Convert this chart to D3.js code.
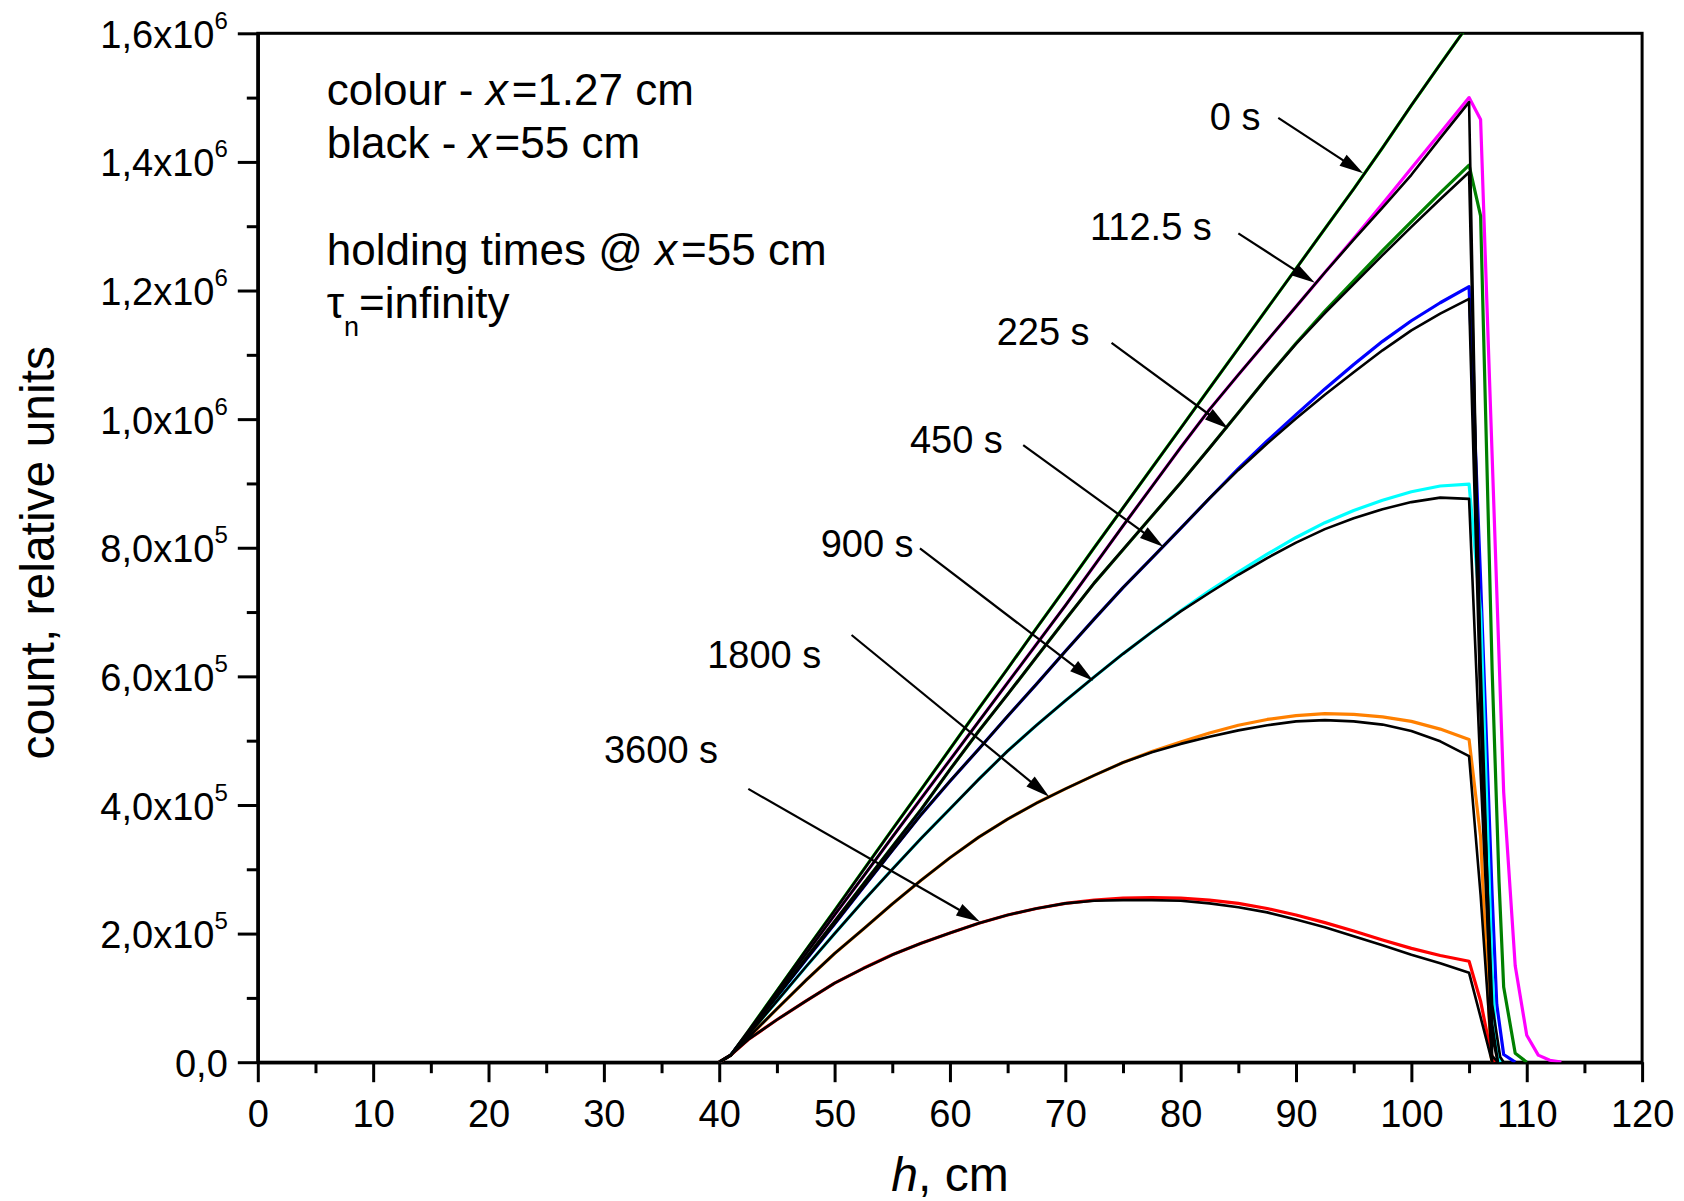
<!DOCTYPE html>
<html>
<head>
<meta charset="utf-8">
<script src="https://d3js.org/d3.v7.min.js"></script>
<style>
body { margin: 0; background: #fff; }
text { font-family: "Liberation Sans", Arial, sans-serif; fill: #000; }
</style>
</head>
<body>
<div id="chart"></div>
<script>
// heights along the profile, cm
var hGrid = [40, 41, 42.5, 45, 47.5, 50, 52.5, 55, 57.5, 60, 62.5, 65, 67.5, 70,
    72.5, 75, 77.5, 80, 82.5, 85, 87.5, 90, 92.5, 95, 97.5, 100, 102.5, 105];

// counts in units of 10^3; colour = x 1.27 cm, black = x 55 cm
var holdTimes = ["0 s", "112.5 s", "225 s", "450 s", "900 s", "1800 s", "3600 s"];

var colour0 = [0, 11, 48, 111, 174, 236, 299, 362, 424, 487, 550, 612, 675, 737,
    800, 862, 924, 986, 1048, 1110, 1172, 1234, 1296, 1358, 1422, 1488, 1552, 1615];
var colour112 = [0, 11, 47, 108, 168, 229, 289, 350, 410, 470, 530, 590, 650, 710,
    772, 834, 895, 956, 1015, 1069, 1122, 1175, 1228, 1281, 1335, 1390, 1445, 1500];
var colour225 = [0, 11, 46, 103, 161, 219, 277, 335, 393, 455, 515, 572, 630, 688,
    745, 797, 849, 901, 955, 1010, 1065, 1118, 1168, 1215, 1262, 1307, 1352, 1395];
var colour450 = [0, 11, 45, 102, 159, 215, 272, 329, 385, 437, 487, 538, 588, 639,
    689, 738, 784, 830, 877, 923, 966, 1007, 1047, 1085, 1121, 1153, 1181, 1206];
var colour900 = [0, 11, 42, 95, 148, 200, 251, 300, 348, 394, 440, 484, 524, 562,
    599, 635, 669, 702, 733, 762, 790, 816, 839, 858, 874, 887, 896, 899];
var colour1800 = [0, 11, 38, 83, 127, 169, 207, 246, 283, 318, 350, 378, 403, 425,
    446, 466, 483, 498, 512, 524, 533, 539, 542, 541, 537, 530, 518, 502];
var colour3600 = [0, 11, 35, 66, 95, 123, 146, 167, 185, 201, 216, 229, 239, 247,
    252, 255, 256, 255, 252, 247, 239, 229, 217, 204, 190, 177, 166, 157];

var black0 = colour0;
var black112 = [0, 11, 47, 108, 168, 229, 289, 350, 410, 470, 530, 590, 650, 710,
    772, 834, 895, 956, 1015, 1069, 1122, 1175, 1228, 1279, 1329, 1380, 1437, 1493];
var black225 = [0, 11, 46, 103, 161, 219, 277, 335, 393, 455, 515, 572, 630, 688,
    745, 797, 849, 901, 955, 1010, 1065, 1117, 1165, 1210, 1255, 1299, 1342, 1384];
var black450 = [0, 11, 45, 102, 159, 215, 272, 329, 385, 437, 487, 538, 588, 639,
    689, 738, 784, 830, 877, 921, 962, 1001, 1038, 1073, 1107, 1138, 1164, 1187];
var black900 = [0, 11, 42, 95, 148, 200, 251, 300, 348, 394, 440, 484, 524, 562,
    599, 635, 669, 701, 730, 758, 784, 808, 829, 846, 860, 871, 878, 876];
var black1800 = [0, 11, 38, 83, 127, 169, 207, 246, 283, 318, 350, 378, 403, 425,
    446, 466, 482, 495, 506, 516, 524, 530, 532, 530, 525, 515, 499, 476];
var black3600 = [0, 11, 35, 66, 95, 123, 146, 167, 185, 201, 216, 229, 239, 247,
    251, 252, 252, 251, 247, 241, 233, 222, 210, 196, 182, 167, 154, 139];

// fall-off past 105 cm, [h, count]
var colourTails = [
    [],
    [[106, 1466], [108, 420], [109, 150], [110, 42], [111, 11], [112, 3], [113, 0]],
    [[106, 1316], [107, 610], [107.6, 280], [108, 117], [109, 14], [110, 0]],
    [[106, 750], [107, 260], [107.4, 90], [108, 12], [109, 0]],
    [[106, 700], [107, 140], [107.3, 40], [107.7, 0]],
    [[106, 350], [106.9, 10], [107, 0]],
    [[106, 95], [106.9, 14], [107.2, 0]]
];
var blackTails = [
    [],
    [[106, 550], [107, 10], [107.5, 0]],
    [[106, 620], [107, 40], [107.5, 0]],
    [[106, 550], [107, 90], [107.7, 8], [108, 0]],
    [[106, 450], [107, 60], [107.5, 0]],
    [[106, 260], [107, 0]],
    [[106, 70], [107, 0]]
];

var colourSeries = [colour0, colour112, colour225, colour450, colour900, colour1800, colour3600];
var blackSeries = [black0, black112, black225, black450, black900, black1800, black3600];
var lineColours = ["#00ff00", "#ff00ff", "#008000", "#0000ff", "#00ffff", "#ff8000", "#ff0000"];

// label anchor and arrow (start -> tip), data units
var annotations = [
    {label: "0 s",     tx: 82.53, ty: 1449.5, x1: 88.46, y1: 1468.5, x2: 95.82, y2: 1382.2},
    {label: "112.5 s", tx: 72.14, ty: 1278.4, x1: 85.00, y1: 1288.8, x2: 91.63, y2: 1211.9},
    {label: "225 s",   tx: 64.05, ty: 1115.2, x1: 74.01, y1: 1118.7, x2: 84.12, y2: 985.4},
    {label: "450 s",   tx: 56.53, ty: 946.8,  x1: 66.35, y1: 959.7,  x2: 78.49, y2: 801.6},
    {label: "900 s",   tx: 48.79, ty: 786.0,  x1: 57.40, y1: 799.1,  x2: 72.42, y2: 593.2},
    {label: "1800 s",  tx: 38.96, ty: 612.5,  x1: 51.47, y1: 664.3,  x2: 68.60, y2: 412.8},
    {label: "3600 s",  tx: 30.01, ty: 464.8,  x1: 42.52, y1: 425.0,  x2: 62.60, y2: 218.5}
];

var xTicks = d3.range(0, 121, 10);
var yTicks = d3.range(0, 1601, 200);


var width = 1684, height = 1201;
var margin = {top: 33.3, right: 41.9, bottom: 138.8, left: 257.8};
var innerWidth = width - margin.left - margin.right,
    innerHeight = height - margin.top - margin.bottom;

var svg = d3.select("#chart")
    .append("svg")
    .attr("width", width)
    .attr("height", height)
    .style("display", "block");

var g = svg.append("g")
    .attr("transform", "translate(" + margin.left + "," + margin.top + ")");

var x = d3.scaleLinear().domain([0, 120]).range([0, innerWidth]);
var y = d3.scaleLinear().domain([0, 1600]).range([innerHeight, 0]);

svg.append("defs").append("clipPath").attr("id", "plotclip")
    .append("rect").attr("width", innerWidth).attr("height", innerHeight);

// axes
var xMinor = d3.range(5, 120, 10);
var yMinor = d3.range(100, 1600, 200);

var xAxisG = g.append("g")
    .attr("transform", "translate(0," + innerHeight + ")")
    .call(d3.axisBottom(x).tickValues(xTicks).tickSize(20).tickSizeOuter(0).tickPadding(18).tickFormat(d3.format("d")));
var xMinorG = g.append("g")
    .attr("transform", "translate(0," + innerHeight + ")")
    .call(d3.axisBottom(x).tickValues(xMinor).tickSize(11).tickSizeOuter(0));

var yAxisG = g.append("g")
    .call(d3.axisLeft(y).tickValues(yTicks).tickSize(20).tickSizeOuter(0));
var yMinorG = g.append("g")
    .call(d3.axisLeft(y).tickValues(yMinor).tickSize(11).tickSizeOuter(0));

// minor ticks and y ticks get no default labels
xMinorG.selectAll("text").remove();
yMinorG.selectAll("text").remove();
yAxisG.selectAll("text").remove();

g.selectAll(".tick line").attr("stroke", "#000").attr("stroke-width", 3);
g.selectAll(".domain").attr("stroke", "#000").attr("stroke-width", 3);

xAxisG.selectAll("text")
    .style("font-size", "38px")
    .attr("fill", "#000");

// y labels like 1,6x10^6
yAxisG.selectAll(".tick").each(function(d) {
    var t = d3.select(this).append("text")
        .attr("x", -30)
        .attr("dy", "0.37em")
        .attr("text-anchor", "end")
        .style("font-size", "38px");
    if (d === 0) {
        t.text("0,0");
        return;
    }
    var v = d * 1000;
    var e = Math.floor(Math.log10(v) + 1e-9);
    var m = (v / Math.pow(10, e)).toFixed(1).replace(".", ",");
    t.append("tspan").text(m + "x10");
    t.append("tspan").attr("dy", -19).style("font-size", "24px").text(e);
});

// frame
g.append("rect")
    .attr("width", innerWidth)
    .attr("height", innerHeight)
    .attr("fill", "none")
    .attr("stroke", "#000")
    .attr("stroke-width", 3);

// curves
var line = d3.line()
    .x(function(d) { return x(d[0]); })
    .y(function(d) { return y(d[1]); });

function toPoints(values, tail) {
    return hGrid.map(function(h, i) { return [h, values[i]]; }).concat(tail);
}

var curves = g.append("g").attr("clip-path", "url(#plotclip)");

colourSeries.forEach(function(vals, i) {
    curves.append("path")
        .datum(toPoints(vals, colourTails[i]))
        .attr("d", line)
        .attr("fill", "none")
        .attr("stroke", lineColours[i])
        .attr("stroke-width", 3.2)
        .attr("stroke-linejoin", "round");
});
blackSeries.forEach(function(vals, i) {
    curves.append("path")
        .datum(toPoints(vals, blackTails[i]))
        .attr("d", line)
        .attr("fill", "none")
        .attr("stroke", "#000")
        .attr("stroke-width", 2.6)
        .attr("stroke-linejoin", "round");
});

// holding time labels with arrows
var headLen = 24, headHalf = 6.5;
annotations.forEach(function(a) {
    g.append("text")
        .attr("x", x(a.tx))
        .attr("y", y(a.ty))
        .style("font-size", "38px")
        .text(a.label);

    var sx = x(a.x1), sy = y(a.y1), ex = x(a.x2), ey = y(a.y2);
    var dx = ex - sx, dy = ey - sy, len = Math.sqrt(dx * dx + dy * dy);
    var ux = dx / len, uy = dy / len;
    var bx = ex - ux * headLen, by = ey - uy * headLen;
    g.append("line")
        .attr("x1", sx).attr("y1", sy)
        .attr("x2", bx + ux * 2).attr("y2", by + uy * 2)
        .attr("stroke", "#000")
        .attr("stroke-width", 2.2);
    g.append("polygon")
        .attr("points", [
            [ex, ey],
            [bx - uy * headHalf, by + ux * headHalf],
            [bx + uy * headHalf, by - ux * headHalf]
        ].map(function(p) { return p.join(","); }).join(" "))
        .attr("fill", "#000");
});

// legend text
var legendX = 326.7 - margin.left;
var l1 = g.append("text").attr("x", legendX).attr("y", 105 - margin.top).style("font-size", "44px");
l1.append("tspan").text("colour - ");
l1.append("tspan").style("font-style", "italic").text("x");
l1.append("tspan").attr("dx", 4).text("=1.27 cm");

var l2 = g.append("text").attr("x", legendX).attr("y", 158.3 - margin.top).style("font-size", "44px");
l2.append("tspan").text("black - ");
l2.append("tspan").style("font-style", "italic").text("x");
l2.append("tspan").attr("dx", 4).text("=55 cm");

var l3 = g.append("text").attr("x", legendX).attr("y", 265 - margin.top).style("font-size", "44px");
l3.append("tspan").text("holding times @ ");
l3.append("tspan").style("font-style", "italic").text("x");
l3.append("tspan").attr("dx", 4).text("=55 cm");

var l4 = g.append("text").attr("x", legendX).attr("y", 318.3 - margin.top).style("font-size", "44px");
l4.append("tspan").text("\u03c4");
l4.append("tspan").attr("dy", 18).style("font-size", "27px").text("n");
l4.append("tspan").attr("dy", -18).text("=infinity");

// axis titles
var xt = svg.append("text")
    .attr("x", margin.left + innerWidth / 2)
    .attr("y", 1191)
    .attr("text-anchor", "middle")
    .style("font-size", "48px");
xt.append("tspan").style("font-style", "italic").text("h");
xt.append("tspan").text(", cm");

svg.append("text")
    .attr("transform", "translate(54," + (margin.top + innerHeight / 2 + 5) + ") rotate(-90)")
    .attr("text-anchor", "middle")
    .style("font-size", "48px")
    .text("count, relative units");
</script>
</body>
</html>
